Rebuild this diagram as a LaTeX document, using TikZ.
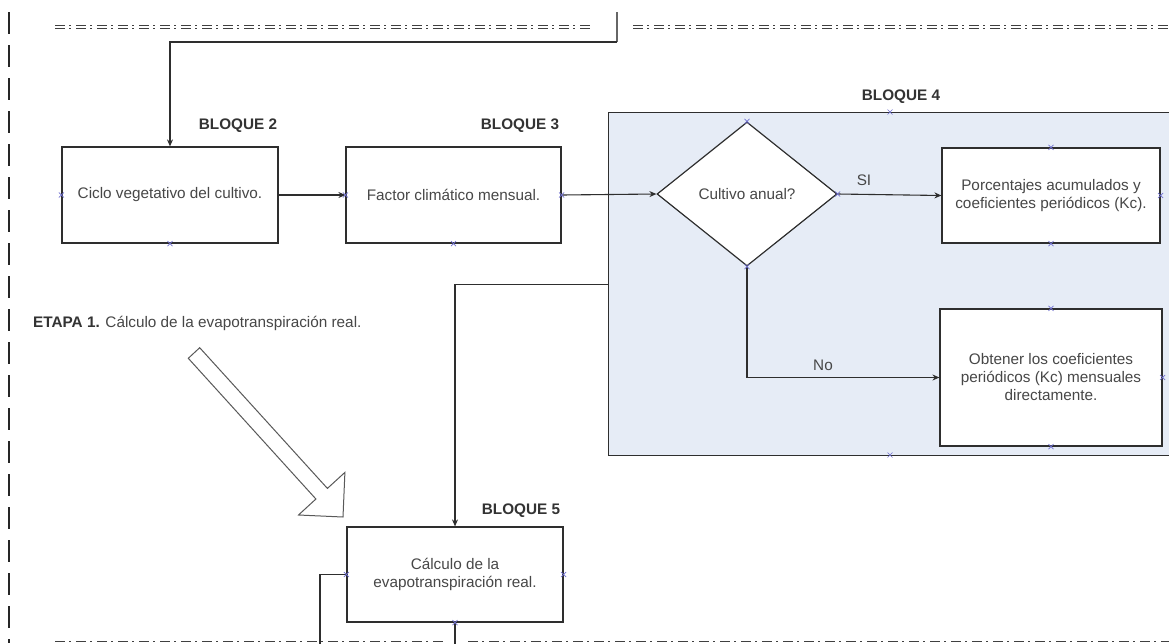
\documentclass[tikz,border=0pt]{standalone}
\usepackage{fontspec}
\setmainfont{Liberation Sans}
\usetikzlibrary{shapes.geometric,arrows.meta,calc}
\definecolor{txt}{HTML}{474747}
\definecolor{btxt}{HTML}{333333}
\definecolor{edge}{HTML}{2E2E2E}
\definecolor{bgblue}{HTML}{E6ECF6}
\definecolor{cpblue}{HTML}{7070D0}
\tikzset{
  stepbox/.style={draw=edge, line width=1.2pt, fill=white, inner sep=2pt, align=center, text=txt, font=\fontsize{15.3}{18}\selectfont},
  blq/.style={font=\bfseries\fontsize{15.3}{18}\selectfont, text=btxt, inner sep=0pt},
  lbl/.style={font=\fontsize{15.3}{18}\selectfont, text=txt, inner sep=0pt},
  conn/.style={draw=edge, line width=1.1pt, -{Stealth[length=7pt,width=6pt]}},
  plain/.style={draw=edge, line width=1.1pt},
  dline/.style={draw=black!75, line width=1.3pt, double=white, double distance=1.5pt, dash pattern=on 10pt off 4pt on 2pt off 5pt},
  vdash/.style={draw=black!85, line width=1.3pt, dash pattern=on 22pt off 11pt},
  cpm/.style={draw=cpblue, line width=0.6pt}
}
\newcommand{\cpx}[1]{\draw[cpm] ($(#1)+(-2.5,-2.5)$) -- ($(#1)+(2.5,2.5)$) ($(#1)+(-2.5,2.5)$) -- ($(#1)+(2.5,-2.5)$);}
\begin{document}
\begin{tikzpicture}[x=1pt,y=-1pt]
\useasboundingbox (0,0) rectangle (1169,643);
\fill[white] (0,0) rectangle (1169,643);

% frame-like dashed lines
\draw[vdash] (9,12) -- (9,643);
\draw[dline] (55,27) -- (590,27);
\draw[dline] (633,27) -- (1169,27);
\draw[dline] (55,643) -- (445,643);
\draw[dline] (468,643) -- (1169,643);

% block 4 container
\node[draw=edge, line width=1.2pt, fill=bgblue, minimum width=565pt, minimum height=343pt, inner sep=0pt, anchor=north west] (bl4) at (608,112) {};

% boxes
\node[stepbox, minimum width=216pt, minimum height=96pt] (b2) at (170,195) {Ciclo vegetativo del cultivo.};
\node[stepbox, minimum width=215pt, minimum height=96pt] (b3) at (453.5,195) {Factor climático mensual.};
\node[stepbox, diamond, minimum width=180pt, minimum height=144pt, aspect=1.25, inner sep=0pt] (d) at (747,194) {Cultivo anual?};
\node[stepbox, minimum width=218pt, minimum height=95pt] (bsi) at (1051,195.5) {Porcentajes acumulados y\\coeficientes periódicos (Kc).};
\node[stepbox, minimum width=222pt, minimum height=137pt] (bno) at (1051,377.5) {Obtener los coeficientes\\periódicos (Kc) mensuales\\directamente.};
\node[stepbox, minimum width=216pt, minimum height=95pt] (b5) at (455,574.5) {Cálculo de la\\evapotranspiración real.};

% labels
\node[blq] (l2) at (238,126) {BLOQUE 2};
\node[blq] (l3) at (520,126) {BLOQUE 3};
\node[blq] (l4) at (901,97) {BLOQUE 4};
\node[blq] (l5) at (521,511) {BLOQUE 5};
\node[lbl] (lsi) at (864,180) {SI};
\node[lbl] (lno) at (823,365) {No};
\node[lbl, anchor=west] (etapa) at (33,323) {\textcolor{btxt}{\textbf{ETAPA 1.}} Cálculo de la evapotranspiración real.};

% connectors
\coordinate (top0) at (617,12);
\coordinate (top1) at (617,42);
\coordinate (bot1) at (320,650);
\coordinate (bot2) at (455,650);
\draw[plain, draw=black!60, line width=1.4pt] (top0) -- (top1);
\draw[conn] (top1) -- (top1 -| b2.north) -- (b2.north);
\draw[conn] (b2.east) -- (b3.west);
\draw[conn] (b3.east) -- (d.west);
\draw[conn] (d.east) -- (bsi.west);
\draw[conn] (d.south) |- (bno.west);
\draw[conn] (bl4.west) -| (b5.north);
\draw[plain] (b5.west) -| (bot1);
\draw[plain] (b5.south) -- (bot2);

% hollow arrow
\draw[draw=black!65, line width=1pt, fill=white, line join=miter]
  (199.7,347.7) -- (327.4,488.4) -- (344.9,472.4) -- (343,517) -- (298.5,515) -- (315.9,499) -- (188.3,358.3) -- cycle;

% connection point marks
\foreach \n in {b2.south, b2.west, b3.west, b3.south, b3.east, bsi.north, bsi.south, bsi.east, bno.north, bno.south, bno.east, b5.south, b5.east, b5.west, d.north, d.south, d.east}{\cpx{\n}}
\cpx{890,112}
\cpx{890,455}
\end{tikzpicture}
\end{document}
